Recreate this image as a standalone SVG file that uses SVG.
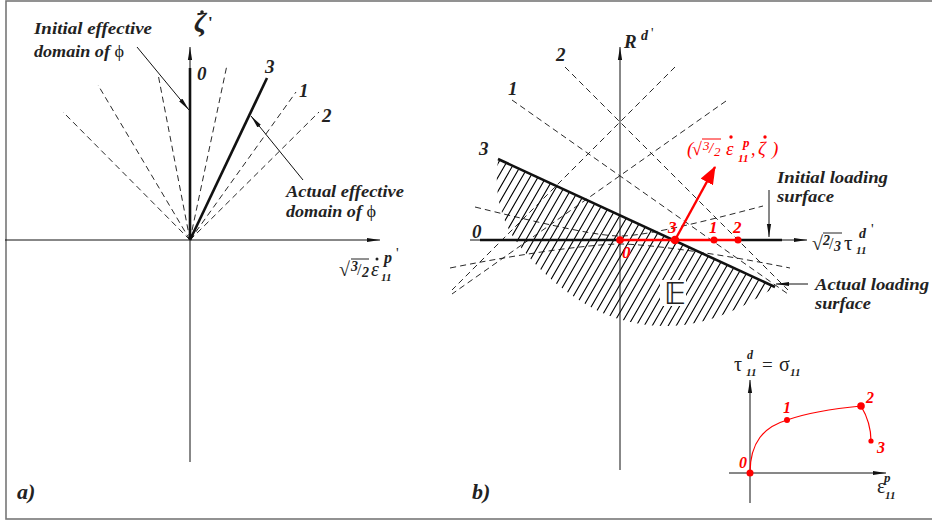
<svg xmlns="http://www.w3.org/2000/svg" width="932" height="522" viewBox="0 0 932 522">
<style>
.ax{stroke:#111;stroke-width:1;fill:none}
.thick{stroke:#111;stroke-width:2.6;fill:none}
.dash{stroke:#111;stroke-width:0.9;stroke-dasharray:6 4;fill:none}
.hat{stroke:#000;stroke-width:1.1;fill:none}
.lbl{font-family:'Liberation Serif','Times New Roman',serif;font-style:italic;font-weight:bold;fill:#222}
.sym{font-family:'Liberation Serif','Times New Roman',serif;fill:#222}
.rl{font-family:'Liberation Serif','Times New Roman',serif;font-style:italic;fill:#f00}
.rd{fill:#f00}
.ptr{stroke:#111;stroke-width:1;fill:none}
</style>
<defs>
<marker id="ah" markerWidth="13" markerHeight="6" refX="13" refY="3" orient="auto" markerUnits="userSpaceOnUse"><path d="M0,0.9 L13,3 L0,5.1 z" fill="#111"/></marker>
<marker id="ahr" markerWidth="18" markerHeight="14" refX="17" refY="7" orient="auto" markerUnits="userSpaceOnUse"><path d="M0,0 L18,7 L0,14 z" fill="#f00"/></marker>
<clipPath id="regclip"><path d="M498,160 L775,287 C755,300 725,318 690,324 C660,329 630,325 600,312 C560,292 530,262 512,235 C500,215 494,190 498,160 Z"/></clipPath>
</defs>
<rect width="932" height="522" fill="#fff"/>
<rect x="6" y="1" width="940" height="518" fill="none" stroke="#777" stroke-width="1.6"/>

<g id="panel-a">
  <g id="a-dashed">
    <line class="dash" x1="190" y1="240" x2="63" y2="112"/>
    <line class="dash" x1="190" y1="240" x2="98" y2="85"/>
    <line class="dash" x1="190" y1="240" x2="158" y2="74"/>
    <line class="dash" x1="190" y1="240" x2="227" y2="65"/>
    <line class="dash" x1="190" y1="240" x2="296" y2="92"/>
    <line class="dash" x1="190" y1="240" x2="319" y2="112"/>
  </g>
  <g id="a-axes">
    <line class="ax" x1="5" y1="240" x2="380" y2="240" marker-end="url(#ah)"/>
    <line class="ax" x1="190" y1="462" x2="190" y2="47" marker-end="url(#ah)"/>
  </g>
  <g id="a-domains">
    <line class="thick" x1="190" y1="240" x2="190" y2="68"/>
    <line class="thick" x1="190" y1="240" x2="267" y2="78"/>
  </g>
  <g id="a-pointers">
    <line class="ptr" x1="137" y1="47" x2="189" y2="110" marker-end="url(#ah)"/>
    <line class="ptr" x1="303" y1="180" x2="251" y2="116" marker-end="url(#ah)"/>
  </g>
  <g id="a-labels">
    <text class="lbl" x="34" y="34" font-size="16" textLength="118" lengthAdjust="spacingAndGlyphs">Initial effective</text>
    <text class="lbl" x="34" y="57" font-size="16" textLength="90" lengthAdjust="spacingAndGlyphs">domain of <tspan font-style="normal" font-weight="normal">ϕ</tspan></text>
    <text class="lbl" x="286" y="197" font-size="16" textLength="118" lengthAdjust="spacingAndGlyphs">Actual effective</text>
    <text class="lbl" x="286" y="217" font-size="16" textLength="90" lengthAdjust="spacingAndGlyphs">domain of <tspan font-style="normal" font-weight="normal">ϕ</tspan></text>
    <text class="lbl" x="197" y="80" font-size="19">0</text>
    <text class="lbl" x="265" y="73" font-size="19">3</text>
    <text class="lbl" x="299" y="97" font-size="19">1</text>
    <text class="lbl" x="322" y="122" font-size="19">2</text>
    <text class="sym" x="194" y="31" font-size="28" font-style="italic" font-weight="bold">ζ</text>
    <circle cx="202" cy="12" r="1.8" fill="#222"/>
    <text class="sym" x="208" y="28" font-size="17" font-weight="bold">'</text>
    <text class="sym" x="339" y="276" font-size="20">√</text>
    <line x1="351" y1="259" x2="369" y2="259" stroke="#222" stroke-width="1"/>
    <text class="lbl" x="351" y="271" font-size="14">3</text>
    <text class="sym" x="357" y="275" font-size="16">/</text>
    <text class="lbl" x="362" y="277" font-size="14">2</text>
    <text class="sym" x="371" y="276" font-size="20" font-style="italic">ε</text>
    <circle cx="377" cy="259" r="1.5" fill="#222"/>
    <text class="lbl" x="384" y="263" font-size="16">p</text>
    <text class="sym" x="396" y="258" font-size="15">'</text>
    <text class="lbl" x="381" y="281" font-size="11">11</text>
  </g>
  <text class="lbl" x="17" y="499" font-size="22">a)</text>
</g>

<g id="panel-b">
  <g id="b-region" clip-path="url(#regclip)">
    <path class="hat" d="M380,340l115.5,-200M388,340l115.5,-200M396,340l115.5,-200M404,340l115.5,-200M412,340l115.5,-200M420,340l115.5,-200M428,340l115.5,-200M436,340l115.5,-200M444,340l115.5,-200M452,340l115.5,-200M460,340l115.5,-200M468,340l115.5,-200M476,340l115.5,-200M484,340l115.5,-200M492,340l115.5,-200M500,340l115.5,-200M508,340l115.5,-200M516,340l115.5,-200M524,340l115.5,-200M532,340l115.5,-200M540,340l115.5,-200M548,340l115.5,-200M556,340l115.5,-200M564,340l115.5,-200M572,340l115.5,-200M580,340l115.5,-200M588,340l115.5,-200M596,340l115.5,-200M604,340l115.5,-200M612,340l115.5,-200M620,340l115.5,-200M628,340l115.5,-200M636,340l115.5,-200M644,340l115.5,-200M652,340l115.5,-200M660,340l115.5,-200M668,340l115.5,-200M676,340l115.5,-200M684,340l115.5,-200M692,340l115.5,-200M700,340l115.5,-200M708,340l115.5,-200M716,340l115.5,-200M724,340l115.5,-200M732,340l115.5,-200M740,340l115.5,-200M748,340l115.5,-200M756,340l115.5,-200M764,340l115.5,-200M772,340l115.5,-200"/>
  </g>
  <g id="b-dashed">
    <line class="dash" x1="565" y1="67" x2="788" y2="290"/>
    <line class="dash" x1="675" y1="67" x2="452" y2="290"/>
    <line class="dash" x1="512" y1="100" x2="788" y2="294"/>
    <line class="dash" x1="726" y1="101" x2="452" y2="294"/>
    <path class="dash" d="M475,207 C560,228 600,236 620,236 C640,236 680,228 763,206"/>
    <path class="dash" d="M450,268 C540,250 600,244 620,244 C640,244 700,250 790,268"/>
  </g>
  <g id="b-axes">
    <line class="ax" x1="470" y1="240" x2="807" y2="240" marker-end="url(#ah)"/>
    <line class="ax" x1="620" y1="470" x2="620" y2="47" marker-end="url(#ah)"/>
  </g>
  <g id="b-surfaces">
    <line class="thick" x1="480" y1="240" x2="620" y2="240"/>
    <line class="thick" x1="738" y1="240" x2="782" y2="240"/>
    <line class="thick" x1="498" y1="159" x2="775" y2="287"/>
  </g>
  <g id="b-pointers">
    <line class="ptr" x1="769" y1="190" x2="769" y2="237" marker-end="url(#ah)"/>
    <line class="ptr" x1="808" y1="284" x2="776" y2="284" marker-end="url(#ah)"/>
  </g>
  <g id="b-path">
    <line x1="620" y1="240" x2="738" y2="240" stroke="#f00" stroke-width="2.4"/>
    <line x1="675" y1="240" x2="715" y2="167" stroke="#f00" stroke-width="2.4" marker-end="url(#ahr)"/>
    <circle class="rd" cx="620" cy="240" r="3.8"/>
    <circle class="rd" cx="675" cy="240" r="4.3"/>
    <circle class="rd" cx="714" cy="240" r="3.5"/>
    <circle class="rd" cx="738" cy="240" r="3.5"/>
    <text class="rl" x="622" y="258" font-size="17" font-weight="bold">0</text>
    <text class="rl" x="668" y="233" font-size="17" font-weight="bold">3</text>
    <text class="rl" x="709" y="233" font-size="17" font-weight="bold">1</text>
    <text class="rl" x="733" y="233" font-size="17" font-weight="bold">2</text>
    <text class="rl" x="687" y="155" font-size="19" font-style="normal">(</text>
    <text class="rl" x="692" y="155" font-size="18" font-style="normal">√</text>
    <line x1="702" y1="139" x2="721" y2="139" stroke="#f00" stroke-width="1"/>
    <text class="rl" x="703" y="150" font-size="13">3</text>
    <text class="rl" x="709" y="153" font-size="15" font-style="normal">/</text>
    <text class="rl" x="714" y="156" font-size="13">2</text>
    <text class="rl" x="726" y="155" font-size="19">ε</text>
    <circle class="rd" cx="731" cy="137" r="1.7"/>
    <text class="rl" x="743" y="147" font-size="13" font-weight="bold">p</text>
    <text class="rl" x="738" y="162" font-size="11" font-weight="bold">11</text>
    <text class="rl" x="751" y="155" font-size="18" font-style="normal">,</text>
    <text class="rl" x="758" y="155" font-size="19">ζ</text>
    <circle class="rd" cx="765" cy="137" r="1.7"/>
    <text class="rl" x="772" y="155" font-size="19" font-style="normal">)</text>
  </g>
  <g id="b-labels">
    <text class="lbl" x="624" y="48" font-size="19">R</text>
    <text class="lbl" x="641" y="40" font-size="14">d</text>
    <text class="sym" x="651" y="38" font-size="14">'</text>
    <text class="lbl" x="556" y="61" font-size="19">2</text>
    <text class="lbl" x="508" y="95" font-size="19">1</text>
    <text class="lbl" x="479" y="155" font-size="19">3</text>
    <text class="lbl" x="472" y="238" font-size="19">0</text>
    <text class="sym" x="812" y="250" font-size="20">√</text>
    <line x1="823" y1="233" x2="842" y2="233" stroke="#222" stroke-width="1"/>
    <text class="lbl" x="823" y="245" font-size="14">2</text>
    <text class="sym" x="829" y="249" font-size="16">/</text>
    <text class="lbl" x="834" y="251" font-size="14">3</text>
    <text class="sym" x="844" y="250" font-size="21">τ</text>
    <text class="lbl" x="859" y="238" font-size="14">d</text>
    <text class="sym" x="871" y="234" font-size="15">'</text>
    <text class="lbl" x="856" y="254" font-size="11">11</text>
    <text class="lbl" x="777" y="183" font-size="17" textLength="111" lengthAdjust="spacingAndGlyphs">Initial loading</text>
    <text class="lbl" x="777" y="202" font-size="17" textLength="57" lengthAdjust="spacingAndGlyphs">surface</text>
    <text class="lbl" x="815" y="290" font-size="17" textLength="114" lengthAdjust="spacingAndGlyphs">Actual loading</text>
    <text class="lbl" x="815" y="309" font-size="17" textLength="56" lengthAdjust="spacingAndGlyphs">surface</text>
    <rect x="660" y="280" width="26" height="26" fill="#fff"/>
    <text x="664" y="304" font-size="30" font-family="DejaVu Sans, sans-serif" fill="#222">𝔼</text>
  </g>
  <text class="lbl" x="472" y="499" font-size="22">b)</text>
</g>

<g id="inset">
  <line class="ax" x1="729" y1="473" x2="886" y2="473" marker-end="url(#ah)"/>
  <line class="ax" x1="750" y1="503" x2="750" y2="380" marker-end="url(#ah)"/>
  <path d="M750,473 C750,442 764,427 787,420 C810,412 840,408 861,406 C867,416 871,428 871,441" fill="none" stroke="#f00" stroke-width="1.2"/>
  <circle class="rd" cx="750" cy="473" r="3.5"/>
  <circle class="rd" cx="787" cy="420" r="3"/>
  <circle class="rd" cx="861" cy="406" r="3.8"/>
  <circle class="rd" cx="871" cy="441" r="2.6"/>
  <text class="rl" x="739" y="468" font-size="16" font-weight="bold">0</text>
  <text class="rl" x="783" y="413" font-size="16" font-weight="bold">1</text>
  <text class="rl" x="866" y="403" font-size="16" font-weight="bold">2</text>
  <text class="rl" x="877" y="453" font-size="16" font-weight="bold">3</text>
  <text class="sym" x="734" y="371" font-size="20">τ</text>
  <text class="lbl" x="747" y="359" font-size="12">d</text>
  <text class="lbl" x="746" y="376" font-size="11">11</text>
  <text class="sym" x="762" y="371" font-size="19">=</text>
  <text class="sym" x="779" y="371" font-size="20">σ</text>
  <text class="lbl" x="790" y="376" font-size="11">11</text>
  <text class="sym" x="877" y="493" font-size="20">ε</text>
  <text class="lbl" x="884" y="482" font-size="13">p</text>
  <text class="lbl" x="885" y="499" font-size="11">11</text>
</g>
</svg>
